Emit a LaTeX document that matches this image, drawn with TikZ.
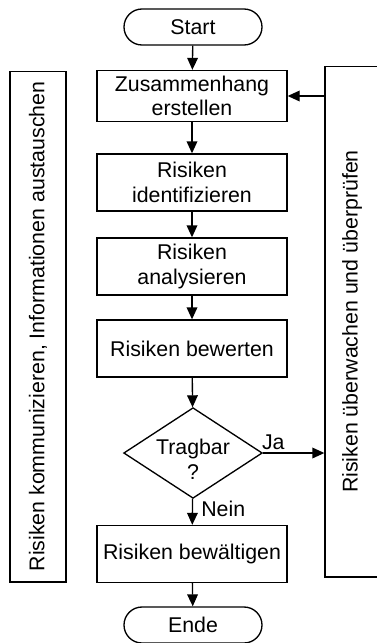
\documentclass[tikz,border=0pt]{standalone}
\usepackage{fontspec}
\setmainfont{Liberation Sans}
\usetikzlibrary{arrows.meta,shapes.geometric}

\tikzset{every picture/.style={line width=1pt}}
\tikzset{
  stepbox/.style={draw, rectangle, minimum width=142.5pt, minimum height=42.75pt, inner sep=0.75pt, align=center},
  terminal/.style={draw, rectangle, rounded corners=13.5pt, minimum width=103.5pt, minimum height=27pt, inner sep=0.75pt},
  sidebox/.style={draw, rectangle, rotate=90, inner sep=0.75pt},
  flow/.style={-{Triangle[length=9pt,width=8pt]}}
}

\begin{document}
\begin{tikzpicture}[x=0.75pt,y=0.75pt,yscale=-1,xscale=1,
  font=\fontsize{16}{18.5}\selectfont]
	\useasboundingbox (0,0) rectangle (377,643);
	
	% Terminals
	\node [terminal] (start) at (193,27) {Start};
	\node [terminal] (ende) at (193,625) {Ende};
	
	% Process steps
	\node [stepbox, minimum height=38.25pt] (kontext) at (192,96) {Zusammenhang\\erstellen};
	\node [stepbox] (ident) at (192,182.5) {Risiken\\identifizieren};
	\node [stepbox] (analyse) at (192,266.5) {Risiken\\analysieren};
	\node [stepbox] (bewert) at (192,348.5) {Risiken bewerten};
	\node [stepbox] (bewaelt) at (192,554) {Risiken bewältigen};
	
	% Decision
	\node [draw, diamond, aspect=1.5, minimum width=104pt, minimum height=68pt, inner sep=0pt] (tragbar) at (193,453) {};
	\node [align=center, inner sep=0pt] (tragtext) at (193,459) {Tragbar\\?};
	
	% Side boxes
	\node [sidebox, minimum width=383pt, minimum height=42pt] (komm) at (38,326.5) {Risiken kommunizieren, Informationen austauschen};
	\node [sidebox, minimum width=383pt, minimum height=40.5pt] (monitor) at (352,321.5) {Risiken überwachen und überprüfen};
	
	% Connectors
	\draw [flow] (start) -- (kontext);
	\draw [flow] (kontext) -- (ident);
	\draw [flow] (ident) -- (analyse);
	\draw [flow] (analyse) -- (bewert);
	\draw [flow] (bewert) -- (tragbar);
	\draw [flow] (tragbar) -- (bewaelt);
	\draw [flow] (bewaelt) -- (ende);
	\draw [flow] (tragbar.east) -- (tragbar.east -| monitor.north);
	\draw [flow] (kontext.east -| monitor.north) -- (kontext.east);
	
	% Branch labels
	\node [anchor=north west, inner sep=0.75pt, xshift=5pt] (nein) at (tragbar.south) {Nein};
	\node [anchor=south west, inner sep=0.75pt, xshift=-2pt, yshift=1pt] (ja) at (tragbar.east) {Ja};
	
\end{tikzpicture}
\end{document}
